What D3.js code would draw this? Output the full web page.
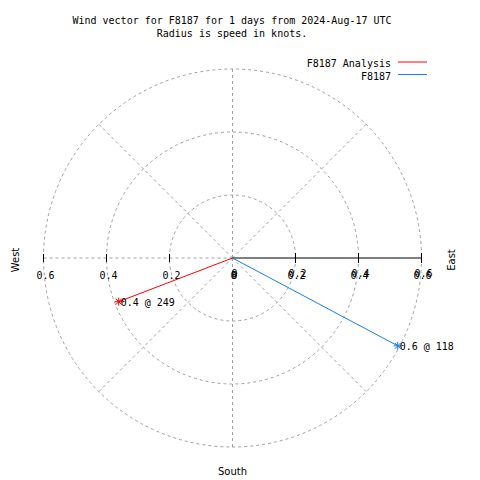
<!DOCTYPE html>
<html><head><meta charset="utf-8">
<script src="https://cdn.jsdelivr.net/npm/d3@7"></script>
<style>body{margin:0;background:#fff}svg{display:block}</style>
</head><body>
<svg id="c" width="480" height="480"></svg>
<script>
const titleLines = ["Wind vector for F8187 for 1 days from 2024-Aug-17 UTC", "Radius is speed in knots."];
const seriesNames = ["F8187 Analysis", "F8187"];
const seriesColors = ["#ff0000", "#1a7ee6"];
const speeds = [0.387, 0.594];
const directions = [249, 118];
const pointLabels = ["0.4 @ 249", "0.6 @ 118"];
const rings = [0.2, 0.4, 0.6];
const tickLabels = ["0", "0.2", "0.4", "0.6"];
const tickValues = [0, 0.2, 0.4, 0.6];
const spokes = [0, 45, 135, 180, 225, 270, 315];

const svg = d3.select("#c");
const cx = 232.5, cy = 258;
const r = d3.scaleLinear().domain([0, 0.6]).range([0, 189]);
const mono = "'DejaVu Sans Mono', monospace";
const sans = "'DejaVu Sans', sans-serif";
const grid = "#a0a0a0";
const g = svg.append("g");

function pt(s, deg) {
  const a = deg * Math.PI / 180;
  return [cx + r(s) * Math.sin(a), cy - r(s) * Math.cos(a)];
}

// rings
g.selectAll("circle.ring").data(rings).join("circle")
  .attr("cx", cx).attr("cy", cy).attr("r", d => r(d))
  .attr("fill", "none").attr("stroke", grid).attr("stroke-dasharray", "3,3");

// spokes
g.selectAll("line.spoke").data(spokes).join("line")
  .attr("x1", cx).attr("y1", cy)
  .attr("x2", d => pt(0.6, d)[0]).attr("y2", d => pt(0.6, d)[1])
  .attr("stroke", grid).attr("stroke-dasharray", "3,3");

// east axis solid
g.append("line").attr("x1", cx).attr("y1", cy).attr("x2", cx + r(0.6)).attr("y2", cy)
  .attr("stroke", "#000");
// ticks
g.selectAll("line.te").data(rings).join("line")
  .attr("x1", d => cx + r(d)).attr("x2", d => cx + r(d))
  .attr("y1", cy - 5).attr("y2", cy + 5).attr("stroke", "#000");
g.selectAll("line.tw").data(rings).join("line")
  .attr("x1", d => cx - r(d)).attr("x2", d => cx - r(d))
  .attr("y1", cy - 4).attr("y2", cy + 4).attr("stroke", "#000");

// tick labels west
g.selectAll("text.lw").data(tickValues).join("text")
  .attr("x", (d) => cx - r(d) + 2).attr("y", cy + 21)
  .attr("text-anchor", "middle").attr("font-family", mono).attr("font-size", 10)
  .text((d, i) => tickLabels[i]);
// tick labels east (double printed)
[0, -2].forEach((dy, k) => {
  g.selectAll("text.le" + k).data(tickValues).join("text")
    .attr("x", d => cx + r(d) + 1 + k).attr("y", cy + 21 + dy)
    .attr("text-anchor", "middle").attr("font-family", mono).attr("font-size", 10)
    .text((d, i) => tickLabels[i]);
});

// compass labels
g.append("text").attr("transform", "translate(19,260) rotate(-90)")
  .attr("text-anchor", "middle").attr("font-family", sans).attr("font-size", 10).text("West");
g.append("text").attr("transform", "translate(455,260) rotate(-90)")
  .attr("text-anchor", "middle").attr("font-family", sans).attr("font-size", 10).text("East");
g.append("text").attr("x", cx).attr("y", 475)
  .attr("text-anchor", "middle").attr("font-family", sans).attr("font-size", 10).text("South");

// vectors
speeds.forEach((s, i) => {
  const [x, y] = pt(s, directions[i]);
  g.append("line").attr("x1", cx).attr("y1", cy).attr("x2", x).attr("y2", y)
    .attr("stroke", seriesColors[i]).attr("stroke-width", 1);
  const m = 4;
  [[-m, 0, m, 0], [0, -m, 0, m], [-m + 1, -m + 1, m - 1, m - 1], [-m + 1, m - 1, m - 1, -m + 1]].forEach(q => {
    g.append("line").attr("x1", x + q[0]).attr("y1", y + q[1]).attr("x2", x + q[2]).attr("y2", y + q[3])
      .attr("stroke", seriesColors[i]);
  });
  g.append("text").attr("x", x + 2).attr("y", y + 4)
    .attr("font-family", mono).attr("font-size", 10).text(pointLabels[i]);
});

// title
titleLines.forEach((t, i) => {
  svg.append("text").attr("x", 232).attr("y", 24 + i * 13)
    .attr("text-anchor", "middle").attr("font-family", mono).attr("font-size", 10).text(t);
});

// legend
seriesNames.forEach((n, i) => {
  const y = 62 + i * 12.5;
  svg.append("text").attr("x", 391).attr("y", y + 5)
    .attr("text-anchor", "end").attr("font-family", mono).attr("font-size", 10).text(n);
  svg.append("line").attr("x1", 398).attr("x2", 427).attr("y1", y).attr("y2", y)
    .attr("stroke", seriesColors[i]);
});
</script>
</body></html>
